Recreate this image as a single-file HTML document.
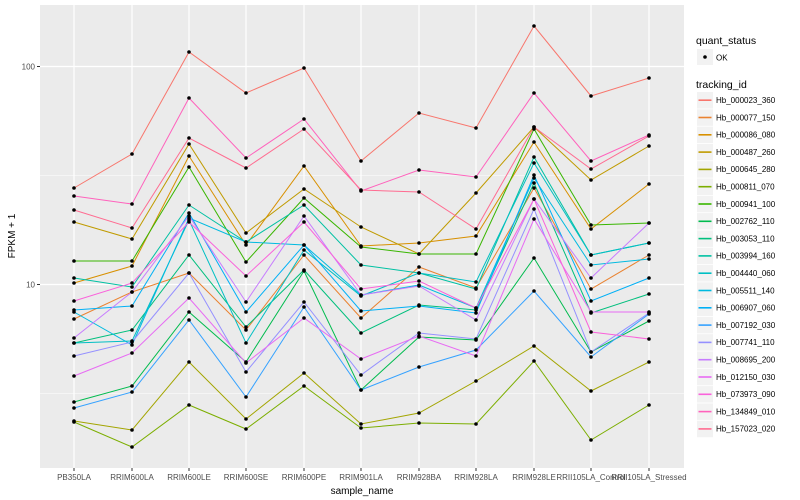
<!DOCTYPE html>
<html><head><meta charset="utf-8"><style>
html,body{margin:0;padding:0;background:#fff;}
svg{display:block;font-family:"Liberation Sans",sans-serif;}
</style></head><body>
<svg width="800" height="500" viewBox="0 0 800 500" xmlns="http://www.w3.org/2000/svg">
<rect x="0" y="0" width="800" height="500" fill="#fff"/>
<rect x="40" y="5" width="644" height="463" fill="#EBEBEB"/>
<g stroke="#fff" stroke-width="0.6">
<line x1="40" x2="684" y1="175.5" y2="175.5"/><line x1="40" x2="684" y1="393.5" y2="393.5"/>
</g>
<g stroke="#fff" stroke-width="1.2">
<line x1="40" x2="684" y1="66.5" y2="66.5"/><line x1="40" x2="684" y1="284.5" y2="284.5"/>
<line x1="74" x2="74" y1="5" y2="468"/><line x1="132" x2="132" y1="5" y2="468"/><line x1="189" x2="189" y1="5" y2="468"/><line x1="246" x2="246" y1="5" y2="468"/><line x1="304" x2="304" y1="5" y2="468"/><line x1="361" x2="361" y1="5" y2="468"/><line x1="419" x2="419" y1="5" y2="468"/><line x1="476" x2="476" y1="5" y2="468"/><line x1="534" x2="534" y1="5" y2="468"/><line x1="591" x2="591" y1="5" y2="468"/><line x1="649" x2="649" y1="5" y2="468"/>
</g>
<g id="series" fill="none" stroke-width="1"></g>
<g id="pts" fill="#000"></g>
<g stroke="#333" stroke-width="1"><line x1="37" x2="40" y1="66.5" y2="66.5"/><line x1="37" x2="40" y1="284.5" y2="284.5"/></g>
<g fill="#4D4D4D" font-size="8" text-anchor="end"><text x="35" y="69.5">100</text><text x="35" y="287.5">10</text></g>
<g id="xt" stroke="#333"></g>
<g fill="#4D4D4D" font-size="8" text-anchor="middle">
<text x="74" y="480">PB350LA</text><text x="132" y="480">RRIM600LA</text><text x="189" y="480">RRIM600LE</text><text x="246" y="480">RRIM600SE</text><text x="304" y="480">RRIM600PE</text><text x="361" y="480">RRIM901LA</text><text x="419" y="480">RRIM928BA</text><text x="476" y="480">RRIM928LA</text><text x="534" y="480">RRIM928LE</text><text x="591" y="480">RRII105LA_Control</text><text x="649" y="480">RRII105LA_Stressed</text>
</g>
<text x="362" y="494" font-size="10" text-anchor="middle" fill="#000">sample_name</text>
<text transform="translate(15,236) rotate(-90)" font-size="10" text-anchor="middle" fill="#000">FPKM + 1</text>
<text x="696" y="44" font-size="10.5" fill="#000">quant_status</text>
<rect x="697" y="49" width="16" height="16" fill="#F2F2F2"/>
<circle cx="705" cy="57" r="1.8" fill="#000"/>
<text x="716" y="60.5" font-size="8" fill="#000">OK</text>
<text x="696" y="88" font-size="10.5" fill="#000">tracking_id</text>
<g id="leg"></g>
</svg>
<script>
var X=[74,132,189,246,304,361,419,476,534,591,649];
var S=[
["#F8766D","Hb_000023_360",[188,154,52,93,68,161,113,128,26,96,78]],
["#EA8331","Hb_000077_150",[319,292,273,330,255,318,267,288,188,289,255]],
["#D89000","Hb_000086_080",[283,266,156,245,166,246,243,236,142,229,184]],
["#C09B00","Hb_000487_260",[222,239,144,233,189,227,254,193,127,180,146]],
["#A3A500","Hb_000645_280",[421,430,362,419,373,424,413,381,346,391,362]],
["#7CAE00","Hb_000811_070",[422,447,405,429,386,428,423,424,361,440,405]],
["#39B600","Hb_000941_100",[261,261,167,262,198,247,254,254,129,225,223]],
["#00BB4E","Hb_002762_110",[402,386,312,362,271,390,337,340,258,352,321]],
["#00BF7D","Hb_003053_110",[343,330,255,327,270,333,305,310,183,313,294]],
["#00C1A3","Hb_003994_160",[278,287,205,242,205,265,273,289,157,255,243]],
["#00BFC4","Hb_004440_060",[343,341,220,343,250,296,273,282,163,255,243]],
["#00BAE0","Hb_005511_140",[312,345,218,242,245,295,285,308,178,265,259]],
["#00B0F6","Hb_006907_060",[310,306,213,312,245,311,306,313,175,301,278]],
["#35A2FF","Hb_007192_030",[408,392,320,397,307,390,367,350,291,357,314]],
["#9590FF","Hb_007741_110",[356,342,273,372,302,375,333,339,209,352,313]],
["#C77CFF","Hb_008695_200",[338,292,216,302,216,295,286,320,199,278,223]],
["#E76BF3","Hb_012150_030",[376,353,298,363,318,359,336,356,219,312,312]],
["#FA62DB","Hb_073973_090",[301,283,222,276,222,289,281,308,199,332,339]],
["#FF62BC","Hb_134849_010",[196,204,98,158,119,191,170,177,93,161,135]],
["#FF6C91","Hb_157023_020",[210,228,138,168,129,190,192,229,127,169,136]]];
var ns="http://www.w3.org/2000/svg";
var g=document.getElementById("series"),p=document.getElementById("pts"),l=document.getElementById("leg"),xt=document.getElementById("xt");
function el(n,a,par){var e=document.createElementNS(ns,n);for(var k in a)e.setAttribute(k,a[k]);par.appendChild(e);return e;}
X.forEach(function(x){el("line",{x1:x,x2:x,y1:468,y2:471},xt);});
S.forEach(function(s,i){
 el("polyline",{points:s[2].map(function(y,j){return X[j]+","+y;}).join(" "),stroke:s[0]},g);
 s[2].forEach(function(y,j){el("circle",{cx:X[j],cy:y,r:1.8},p);});
 var yy=92+i*17.3;
 el("rect",{x:697,y:yy,width:16,height:16.5,fill:"#F2F2F2"},l);
 el("line",{x1:698.5,x2:711.5,y1:yy+8.2,y2:yy+8.2,stroke:s[0],"stroke-width":1.6},l);
 var t=el("text",{x:716,y:yy+11,"font-size":"8",fill:"#000"},l);t.textContent=s[1];
});
</script>
</body></html>
